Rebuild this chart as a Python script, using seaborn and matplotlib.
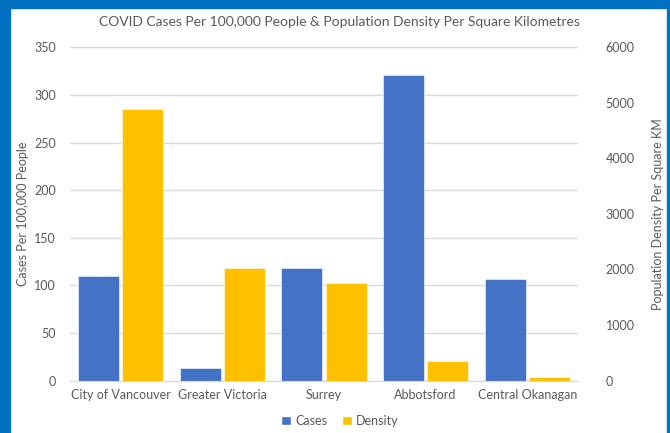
import pandas as pd
import numpy as np
import matplotlib.pyplot as plt
import seaborn as sns
from matplotlib.patches import Rectangle, Patch

# Data
regions = ['City of Vancouver', 'Greater Victoria', 'Surrey', 'Abbotsford', 'Central Okanagan']
cases = [110, 13, 118, 321, 107]          # cases per 100,000 people
density = [4885, 2020, 1755, 355, 68]     # people per square km
series = ['Cases', 'Density']
colors = {'Cases': '#4472C4', 'Density': '#FFC000'}

sns.set_style('white')
plt.rcParams['font.family'] = ['Lato', 'DejaVu Sans']
text_col = '#595959'

# long tables, one per axis (the other series left empty so dodge positions stay)
df_cases = pd.DataFrame({'Region': regions * 2,
                         'Series': ['Cases'] * 5 + ['Density'] * 5,
                         'Value': cases + [np.nan] * 5})
df_dens = pd.DataFrame({'Region': regions * 2,
                        'Series': ['Cases'] * 5 + ['Density'] * 5,
                        'Value': [np.nan] * 5 + density})

fig = plt.figure(figsize=(6.7, 4.33), dpi=100)
ax = fig.add_axes([70 / 670, 1 - 380.5 / 433, 508 / 670, 333.2 / 433])
ax2 = ax.twinx()

for a, d in ((ax, df_cases), (ax2, df_dens)):
    sns.barplot(data=d, x='Region', y='Value', hue='Series', hue_order=series,
                order=regions, palette=colors, saturation=1, width=0.87, gap=0.07,
                ax=a, legend=False, edgecolor='white', linewidth=0.4)

ax.set_xlim(-0.5, 4.5)
ax.set_ylim(0, 350)
ax.set_yticks(range(0, 351, 50))
ax2.set_ylim(0, 6000)
ax2.set_yticks(range(0, 6001, 1000))

ax.yaxis.grid(True, color='#d9d9d9', linewidth=1)
ax.set_axisbelow(True)
for a in (ax, ax2):
    for s in a.spines.values():
        s.set_visible(False)
    a.tick_params(length=0, labelsize=9, labelcolor=text_col)
ax.spines['bottom'].set_visible(True)
ax.spines['bottom'].set_color('#d9d9d9')
ax.tick_params(axis='y', pad=10)
ax2.tick_params(axis='y', pad=20)
ax.tick_params(axis='x', pad=6)

ax.set_xlabel('')
ax.set_ylabel('Cases Per 100,000 People', fontsize=9, color=text_col)
ax2.set_ylabel('Population Density Per Square KM', fontsize=9, color=text_col)
ax.yaxis.set_label_coords(-0.081, 0.5)
ax2.yaxis.set_label_coords(1.146, 0.5)

fig.text(0.507, 1 - 22 / 433, 'COVID Cases Per 100,000 People & Population Density Per Square Kilometres',
         ha='center', va='center', fontsize=10, color=text_col)

handles = [Patch(facecolor=colors[s], label=s) for s in series]
fig.legend(handles=handles, loc='center', bbox_to_anchor=(0.507, 1 - 421 / 433), ncol=2,
           frameon=False, fontsize=9, handlelength=0.8, handleheight=0.8,
           handletextpad=0.3, columnspacing=1.2, labelcolor=text_col)

# blue frame around the chart
fig.patches.append(Rectangle((0, 1 - 8 / 433), 1, 8 / 433, transform=fig.transFigure,
                             color='#0070C0', zorder=0))
fig.patches.append(Rectangle((0, 0), 10 / 670, 1, transform=fig.transFigure,
                             color='#0070C0', zorder=0))
fig.patches.append(Rectangle((667 / 670, 0), 3 / 670, 1, transform=fig.transFigure,
                             color='#0070C0', zorder=0))

fig.savefig('out.png', dpi=100)
